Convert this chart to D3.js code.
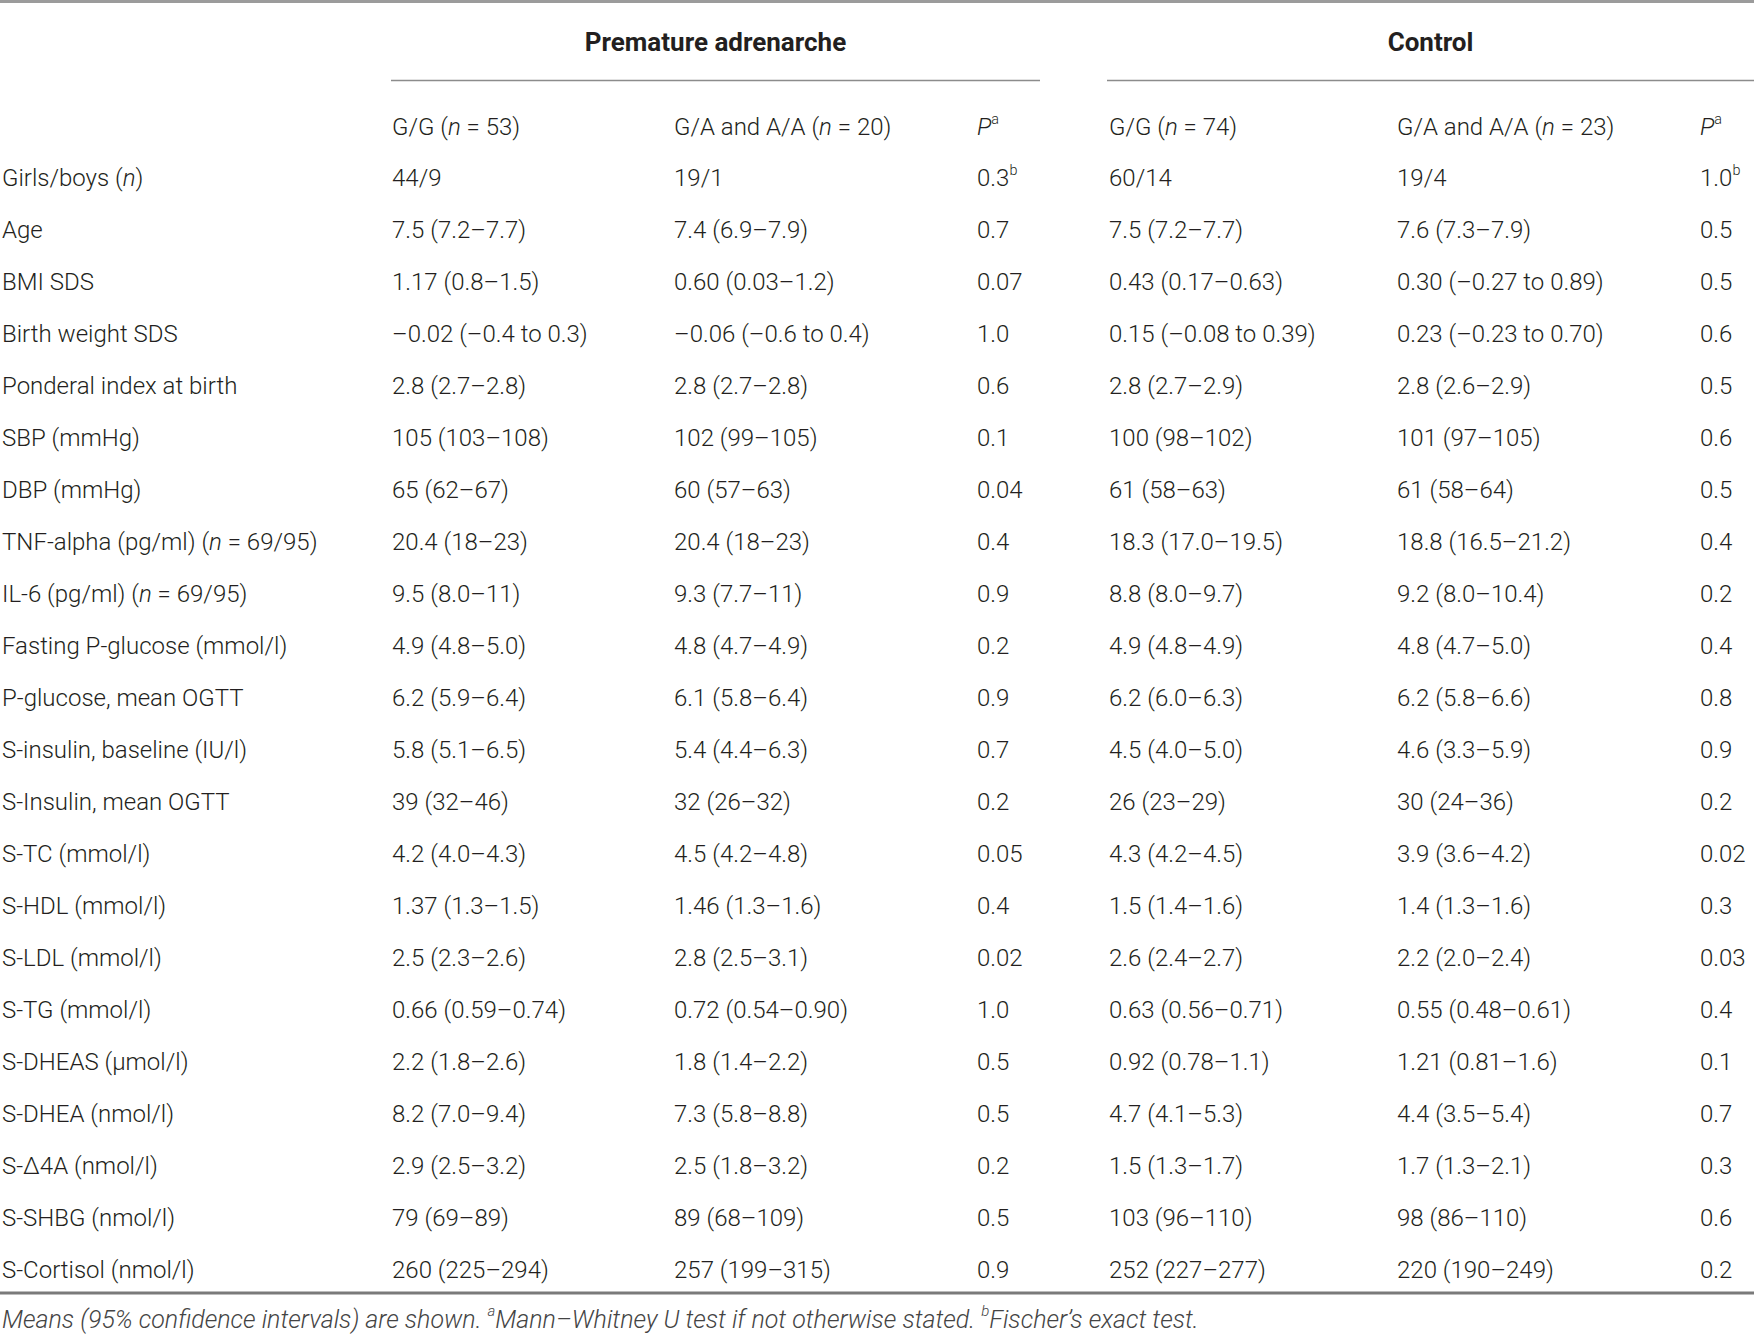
<!DOCTYPE html>
<html lang="en">
<head>
    <meta charset="UTF-8">
    <title>Premature adrenarche table</title>
    <script src="https://cdn.jsdelivr.net/npm/d3@7"></script>
    <style>
        body, html {
            margin: 0;
            padding: 0;
            background: #fff;
            overflow: hidden;
        }
        svg {
            display: block;
        }
    </style>
</head>
<body>
    <svg id="mainsvg"></svg>
    <script>
        // table content; *x* = italic, ^x = superscript
        const groupHeaders = ['Premature adrenarche', 'Control'];
        const colHeaders = ['G/G (*n* = 53)', 'G/A and A/A (*n* = 20)', '*P*^a',
                            'G/G (*n* = 74)', 'G/A and A/A (*n* = 23)', '*P*^a'];

        const rowLabels = [
            'Girls/boys (*n*)', 'Age', 'BMI SDS', 'Birth weight SDS', 'Ponderal index at birth',
            'SBP (mmHg)', 'DBP (mmHg)', 'TNF-alpha (pg/ml) (*n* = 69/95)', 'IL-6 (pg/ml) (*n* = 69/95)',
            'Fasting P-glucose (mmol/l)', 'P-glucose, mean OGTT', 'S-insulin, baseline (IU/l)',
            'S-Insulin, mean OGTT', 'S-TC (mmol/l)', 'S-HDL (mmol/l)', 'S-LDL (mmol/l)',
            'S-TG (mmol/l)', 'S-DHEAS (μmol/l)', 'S-DHEA (nmol/l)', 'S-Δ4A (nmol/l)',
            'S-SHBG (nmol/l)', 'S-Cortisol (nmol/l)'
        ];

        const paGG = ['44/9', '7.5 (7.2–7.7)', '1.17 (0.8–1.5)', '–0.02 (–0.4 to 0.3)', '2.8 (2.7–2.8)',
            '105 (103–108)', '65 (62–67)', '20.4 (18–23)', '9.5 (8.0–11)', '4.9 (4.8–5.0)',
            '6.2 (5.9–6.4)', '5.8 (5.1–6.5)', '39 (32–46)', '4.2 (4.0–4.3)', '1.37 (1.3–1.5)',
            '2.5 (2.3–2.6)', '0.66 (0.59–0.74)', '2.2 (1.8–2.6)', '8.2 (7.0–9.4)', '2.9 (2.5–3.2)',
            '79 (69–89)', '260 (225–294)'];
        const paGA = ['19/1', '7.4 (6.9–7.9)', '0.60 (0.03–1.2)', '–0.06 (–0.6 to 0.4)', '2.8 (2.7–2.8)',
            '102 (99–105)', '60 (57–63)', '20.4 (18–23)', '9.3 (7.7–11)', '4.8 (4.7–4.9)',
            '6.1 (5.8–6.4)', '5.4 (4.4–6.3)', '32 (26–32)', '4.5 (4.2–4.8)', '1.46 (1.3–1.6)',
            '2.8 (2.5–3.1)', '0.72 (0.54–0.90)', '1.8 (1.4–2.2)', '7.3 (5.8–8.8)', '2.5 (1.8–3.2)',
            '89 (68–109)', '257 (199–315)'];
        const paP = ['0.3^b', '0.7', '0.07', '1.0', '0.6', '0.1', '0.04', '0.4', '0.9', '0.2', '0.9',
            '0.7', '0.2', '0.05', '0.4', '0.02', '1.0', '0.5', '0.5', '0.2', '0.5', '0.9'];
        const ctGG = ['60/14', '7.5 (7.2–7.7)', '0.43 (0.17–0.63)', '0.15 (–0.08 to 0.39)', '2.8 (2.7–2.9)',
            '100 (98–102)', '61 (58–63)', '18.3 (17.0–19.5)', '8.8 (8.0–9.7)', '4.9 (4.8–4.9)',
            '6.2 (6.0–6.3)', '4.5 (4.0–5.0)', '26 (23–29)', '4.3 (4.2–4.5)', '1.5 (1.4–1.6)',
            '2.6 (2.4–2.7)', '0.63 (0.56–0.71)', '0.92 (0.78–1.1)', '4.7 (4.1–5.3)', '1.5 (1.3–1.7)',
            '103 (96–110)', '252 (227–277)'];
        const ctGA = ['19/4', '7.6 (7.3–7.9)', '0.30 (–0.27 to 0.89)', '0.23 (–0.23 to 0.70)', '2.8 (2.6–2.9)',
            '101 (97–105)', '61 (58–64)', '18.8 (16.5–21.2)', '9.2 (8.0–10.4)', '4.8 (4.7–5.0)',
            '6.2 (5.8–6.6)', '4.6 (3.3–5.9)', '30 (24–36)', '3.9 (3.6–4.2)', '1.4 (1.3–1.6)',
            '2.2 (2.0–2.4)', '0.55 (0.48–0.61)', '1.21 (0.81–1.6)', '4.4 (3.5–5.4)', '1.7 (1.3–2.1)',
            '98 (86–110)', '220 (190–249)'];
        const ctP = ['1.0^b', '0.5', '0.5', '0.6', '0.5', '0.6', '0.5', '0.4', '0.2', '0.4', '0.8',
            '0.9', '0.2', '0.02', '0.3', '0.03', '0.4', '0.1', '0.7', '0.3', '0.6', '0.2'];

        const footnote = '*Means (95% confidence intervals) are shown. ^aMann–Whitney U test ' +
            'if not otherwise stated. ^bFischer’s exact test.*';

        const columns = [paGG, paGA, paP, ctGG, ctGA, ctP];

        const width = 1754, height = 1337;
        const svg = d3.select('svg').attr('width', width).attr('height', height);

        const textColor = '#231f20';
        const fontFamily = 'Roboto, "Open Sans", sans-serif';
        const fontSize = 24;
        const supShift = 8;

        const colKeys = ['label', 'c0', 'c1', 'c2', 'c3', 'c4', 'c5'];
        const xScale = d3.scaleOrdinal().domain(colKeys).range([2, 392, 674, 977, 1109, 1397, 1700]);
        const yScale = d3.scalePoint().domain(rowLabels).range([178, 1270]);

        // writes a string with *italic* and ^sup parts into a text node
        function richText(sel, str, size = fontSize) {
            const tokens = str.match(/\*|\^[a-z]|[^*^]+/g) || [];
            let italic = false, raised = false;
            tokens.forEach(tok => {
                if (tok === '*') { italic = !italic; return; }
                const t = sel.append('tspan');
                if (italic) t.attr('font-style', 'italic');
                if (tok.startsWith('^')) {
                    t.text(tok.slice(1)).attr('font-size', size * 0.6).attr('dy', -supShift);
                    raised = true;
                } else {
                    if (raised) { t.attr('dy', supShift); raised = false; }
                    t.text(tok);
                }
            });
        }

        const g = svg.append('g')
            .attr('font-family', fontFamily)
            .attr('font-size', fontSize)
            .attr('font-weight', 300)
            .attr('fill', textColor);

        // rules
        svg.append('line').attr('x1', 0).attr('x2', width).attr('y1', 1.5).attr('y2', 1.5)
            .attr('stroke', '#9b9b9b').attr('stroke-width', 3);
        svg.append('line').attr('x1', 0).attr('x2', width).attr('y1', 1293).attr('y2', 1293)
            .attr('stroke', '#7a7a7a').attr('stroke-width', 3);

        // group headers with underlines
        const groupSpans = [[391, 1040], [1107, 1754]];
        groupHeaders.forEach((h, i) => {
            const [a, b] = groupSpans[i];
            g.append('text')
                .attr('x', (a + b) / 2).attr('y', 42)
                .attr('text-anchor', 'middle').attr('dominant-baseline', 'central')
                .attr('font-weight', 700).attr('font-size', 26)
                .text(h);
            svg.append('line').attr('x1', a).attr('x2', b).attr('y1', 80.5).attr('y2', 80.5)
                .attr('stroke', '#8c8c8c').attr('stroke-width', 1.5);
        });

        // column headers
        colHeaders.forEach((h, i) => {
            const t = g.append('text')
                .attr('x', xScale('c' + i)).attr('y', 127)
                .attr('dominant-baseline', 'central');
            richText(t, h);
        });

        // body rows
        const rows = g.selectAll('g.row').data(rowLabels).join('g')
            .attr('class', 'row')
            .attr('transform', d => `translate(0, ${yScale(d)})`);

        rows.each(function(label, r) {
            const row = d3.select(this);
            const t = row.append('text').attr('x', xScale('label')).attr('dominant-baseline', 'central');
            richText(t, label);
            columns.forEach((col, c) => {
                const ct = row.append('text').attr('x', xScale('c' + c)).attr('dominant-baseline', 'central');
                richText(ct, col[r]);
            });
        });

        // footnote
        const fn = g.append('text').attr('x', 2).attr('y', 1319)
            .attr('font-size', 25)
            .attr('dominant-baseline', 'central').attr('fill', '#444');
        richText(fn, footnote, 25);
    </script>
</body>
</html>
